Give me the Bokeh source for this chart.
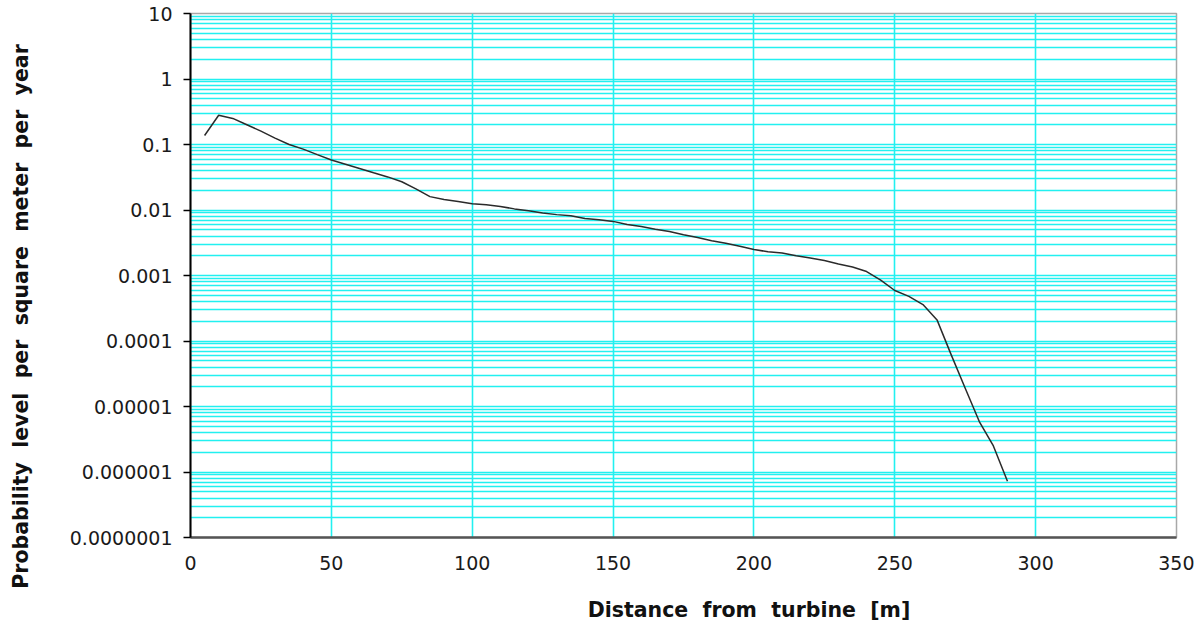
from bokeh.plotting import figure
from bokeh.models import FixedTicker, Label, ColumnDataSource
from bokeh.embed import file_html
from bokeh.resources import INLINE
import math

# ---- data ----
distance_m = [5, 10, 15, 20, 25, 30, 35, 40, 45, 50, 55, 60, 65, 70, 75, 80, 85, 90,
              95, 100, 105, 110, 115, 120, 125, 130, 135, 140, 145, 150, 155, 160,
              165, 170, 175, 180, 185, 190, 195, 200, 205, 210, 215, 220, 225, 230,
              235, 240, 245, 250, 255, 260, 265, 270, 275, 280, 285, 290]
probability = [0.137, 0.28, 0.25, 0.2, 0.16, 0.125, 0.1, 0.085, 0.07, 0.058, 0.05,
               0.043, 0.037, 0.032, 0.027, 0.021, 0.016, 0.0145, 0.0135, 0.0125,
               0.012, 0.0113, 0.0104, 0.0097, 0.009, 0.0085, 0.0082, 0.0074, 0.0071,
               0.0067, 0.006, 0.0056, 0.0051, 0.0047, 0.0042, 0.0038, 0.0034, 0.0031,
               0.0028, 0.0025, 0.0023, 0.0022, 0.002, 0.00185, 0.0017, 0.0015,
               0.00135, 0.00115, 0.00085, 0.00059, 0.00048, 0.00036, 0.00021,
               6.2e-5, 1.9e-5, 5.9e-6, 2.5e-6, 7.2e-7]

x_tick_values = [0, 50, 100, 150, 200, 250, 300, 350]
y_tick_values = [1e-7, 1e-6, 1e-5, 1e-4, 1e-3, 1e-2, 1e-1, 1.0, 10.0]
y_tick_labels = ["0.0000001", "0.000001", "0.00001", "0.0001", "0.001", "0.01",
                 "0.1", "1", "10"]
y_minor_multipliers = [2, 3, 4, 5, 6, 7, 8, 9]

# wide word gaps as in the reference (no-break space keeps the gap in SVG)
GAP = "\u00a0 "
x_label_text = GAP.join(["Distance", "from", "turbine", "[m]"])
y_label_text = GAP.join(["Probability", "level", "per", "square", "meter", "per", "year"])

# ---- figure ----
W, H = 1194, 620
FRAME_L, FRAME_R, FRAME_T, FRAME_B = 190, 1176, 13, 537  # canvas coords

p = figure(width=W, height=H, x_range=(0, 350), y_range=(1e-7, 10),
           y_axis_type="log", output_backend="svg", toolbar_location=None,
           min_border_left=FRAME_L, min_border_right=W - FRAME_R,
           min_border_top=FRAME_T, min_border_bottom=H - FRAME_B,
           background_fill_color="white", border_fill_color="white")

p.outline_line_color = "#a8a8a8"
p.outline_line_width = 1.5

minor = [m * d for d in y_tick_values[:-1] for m in y_minor_multipliers]
p.yaxis.ticker = FixedTicker(ticks=y_tick_values, minor_ticks=minor)
p.xaxis.ticker = FixedTicker(ticks=x_tick_values)
p.yaxis.major_label_overrides = dict(zip(y_tick_values, y_tick_labels))

grid_color = "#22F0F0"
p.ygrid.grid_line_color = grid_color
p.ygrid.grid_line_width = 1.6
p.ygrid.minor_grid_line_color = grid_color
p.ygrid.minor_grid_line_width = 1.4
p.xgrid.grid_line_color = grid_color
p.xgrid.grid_line_width = 1.6

tick_font = "DejaVu Sans"
for ax in (p.xaxis[0], p.yaxis[0]):
    ax.major_label_text_font = tick_font
    ax.major_label_text_font_size = "19px"
    ax.major_label_text_color = "#1a1a1a"
    ax.major_label_text_font_style = "normal"
    ax.minor_tick_in = 0
    ax.minor_tick_out = 0
    ax.major_tick_in = 0

p.yaxis.axis_line_color = "black"
p.yaxis.axis_line_width = 2
p.yaxis.major_tick_out = 7
p.yaxis.major_tick_line_color = "black"
p.yaxis.major_tick_line_width = 1.5
p.yaxis.major_label_standoff = 11

p.xaxis.axis_line_color = "#555555"
p.xaxis.axis_line_width = 2.5
p.xaxis.major_tick_out = 0
p.xaxis.major_tick_line_color = None
p.xaxis.major_label_standoff = 18

src = ColumnDataSource(dict(x=distance_m, y=probability))
p.line("x", "y", source=src, line_color="#2a2a2a", line_width=1.5)

# axis titles as labels in the side panels (outside the clipped frame)
xl = Label(x=748.5 - FRAME_L, y=-13, x_units="screen", y_units="screen",
           text=x_label_text, text_align="center", text_baseline="middle",
           text_font="DejaVu Sans", text_font_style="bold",
           text_font_size="20.5px", text_color="#111111")
yl = Label(x=-22, y=221, x_units="screen", y_units="screen",
           text=y_label_text, text_align="center", text_baseline="middle",
           angle=math.pi / 2, text_font="DejaVu Sans", text_font_style="bold",
           text_font_size="20.5px", text_color="#111111")
p.add_layout(xl, "below")
p.add_layout(yl, "left")

open("out.html", "w").write(file_html(p, INLINE))
